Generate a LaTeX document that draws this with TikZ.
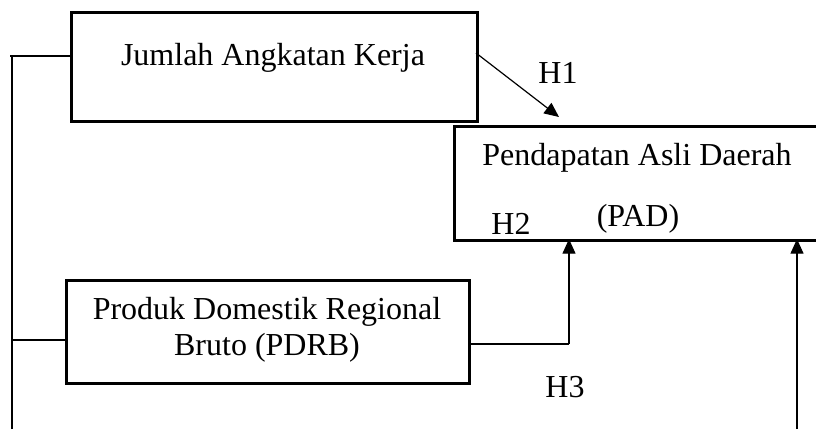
\documentclass[tikz,border=0pt]{standalone}
\usepackage{fontspec}
\setmainfont{Liberation Serif}
\usetikzlibrary{arrows.meta}
\begin{document}
\begin{tikzpicture}[x=0.75pt,y=-0.75pt,
  box/.style={draw, line width=1.9pt, inner sep=0pt, anchor=north west},
  lbl/.style={font=\fontsize{24}{28}\selectfont, inner sep=0pt, anchor=base},
  conn/.style={line width=0.9pt},
  arr/.style={conn, -{Triangle[length=11pt,width=9.75pt]}}]
\clip (0,0) rectangle (816,429);
\fill[white] (0,0) rectangle (816,429);
% boxes
\node[box, minimum width=406*0.75pt, minimum height=109*0.75pt] (ja) at (70,11) {};
\node[box, minimum width=380*0.75pt, minimum height=114*0.75pt] (pad) at (453,125) {};
\node[box, minimum width=403*0.75pt, minimum height=103*0.75pt] (pdrb) at (65,279) {};
% texts
\node[lbl] (tja) at (273,65) {Jumlah Angkatan Kerja};
\node[lbl] (tpad1) at (637,165) {Pendapatan Asli Daerah};
\node[lbl] (tpad2) at (638,226) {(PAD)};
\node[lbl] (tpd1) at (267,319) {Produk Domestik Regional};
\node[lbl] (tpd2) at (267,355) {Bruto (PDRB)};
\node[lbl] (h1) at (558,83) {H1};
\node[lbl] (h2) at (511,234) {H2};
\node[lbl] (h3) at (565,397) {H3};
% connector coordinates
\coordinate (a1) at (476,53);
\coordinate (a2) at (559,117);
\coordinate (l0) at (12,429);
\coordinate (l1) at (12,56);
\coordinate (l1b) at (10,56);
\coordinate (l2) at (12,340);
\coordinate (p1) at (569,344);
\coordinate (p2) at (569,239);
\coordinate (r0) at (797,429);
\coordinate (r1) at (797,239);
% connectors
\draw[arr] (a1) -- (a2);
\draw[conn] (l0) -- (l1);
\draw[conn] (l1b) -- (ja.west |- l1b);
\draw[conn] (l2) -- (pdrb.west |- l2);
\draw[conn] (pdrb.east |- p1) -- (p1);
\draw[arr] (p1) -- (p2);
\draw[arr] (r0) -- (r1);
\end{tikzpicture}
\end{document}
